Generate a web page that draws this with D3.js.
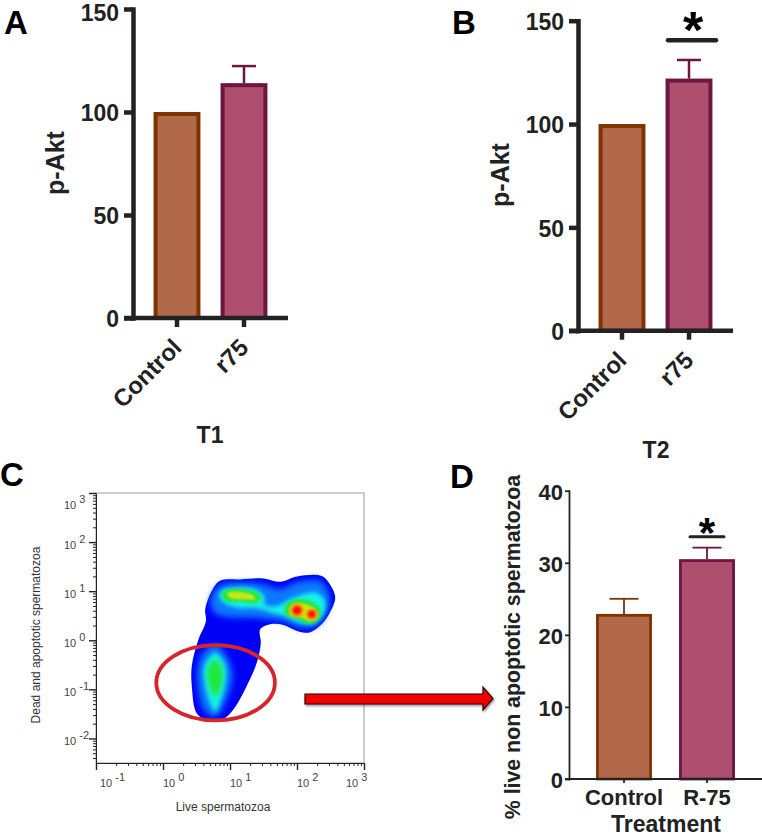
<!DOCTYPE html>
<html>
<head>
<meta charset="utf-8">
<script src="https://cdn.jsdelivr.net/npm/d3@7"></script>
<style>
    body { margin: 0; background: #fff; }
    svg { display: block; }
    text { font-family: "Liberation Sans", Arial, sans-serif; }
    .big { font-weight: bold; fill: #222; }
    .letter { font-weight: bold; font-size: 33px; fill: #000; }
    .flow { fill: #444; font-size: 11px; }
</style>
</head>
<body>
<div class="graphic"></div>
<script>
// bar panels
var catsAB = ["Control", "r75"];
var catsD = ["Control", "R-75"];
var valuesA = [100, 114];
var errorsA = [0, 8.3];
var valuesB = [100, 122];
var errorsB = [0, 9];
var valuesD = [22.9, 30.5];
var errorsD = [2.1, 1.6];
var ticksAB = [0, 50, 100, 150];
var ticksD = [0, 10, 20, 30, 40];
var fills = ["#b1694a", "#ae4f70"];
var strokes = ["#7f3300", "#6f1540"];

// panel C, density outlines as [log10 x, log10 y]
var decadesX = [0.1, 1, 10, 100, 1000];
var decadesY = [0.01, 0.1, 1, 10, 100, 1000];
var outline = [[.85,1.21],[1.15,1.24],[1.5,1.26],[1.75,1.19],[2,1.3],[2.37,1.31],[2.49,1.14],[2.57,.87],[2.49,.565],[2.37,.33],[2.19,.16],[2,.19],[1.8,.31],[1.62,.33],[1.45,.22],[1.46,-.05],[1.4,-.46],[1.25,-.93],[1.05,-1.41],[.9,-1.6],[.63,-1.61],[.5,-1.48],[.43,-.93],[.43,-.52],[.53,.02],[.64,.39],[.63,.63],[.73,1.01]];
var azureTop = [[.83,1.11],[1.1,1.18],[1.5,1.14],[1.74,1.04],[2,1.18],[2.34,1.21],[2.47,.97],[2.47,.63],[2.29,.29],[2.04,.26],[1.8,.39],[1.57,.43],[1.35,.46],[1.1,.46],[.8,.53],[.7,.77],[.75,.97]];
var azureLow = [[.78,-.08],[.98,-.39],[1.04,-.73],[.95,-1.2],[.78,-1.56],[.61,-1.41],[.52,-.93],[.53,-.46],[.65,-.18]];
var cyanTop = [[.88,1.01],[1.1,1.07],[1.37,1.04],[1.51,.9],[1.52,.73],[1.7,.7],[1.9,.84],[2.09,.94],[2.29,.97],[2.42,.8],[2.39,.53],[2.24,.35],[2.04,.36],[1.85,.48],[1.65,.55],[1.4,.65],[1.1,.67],[.9,.77],[.84,.9]];
var cyanLow = [[.78,-.26],[.93,-.52],[.93,-.86],[.85,-1.27],[.78,-1.45],[.69,-1.24],[.62,-.86],[.62,-.52]];
var greenUpper = [[.88,.98],[1.1,1.05],[1.37,.99],[1.47,.87],[1.37,.75],[1.15,.79],[.94,.79]];
var greenRight = [[1.83,.72],[2,.83],[2.2,.8],[2.35,.63],[2.31,.41],[2.17,.33],[2,.44],[1.83,.51]];
var greenLow = [[.78,-.38],[.89,-.63],[.85,-1],[.78,-1.15],[.7,-.96],[.66,-.63]];
var yellowUpper = [[.96,.96],[1.1,.99],[1.34,.92],[1.38,.84],[1.22,.83],[1.0,.86]];
var yellowRight = [[1.9,.69],[2.04,.76],[2.26,.65],[2.31,.48],[2.19,.39],[2.04,.48],[1.9,.51]];
var peaksX = [2, 2.22];
var peaksY = [.61, .53];
var gateX = [-.1, 1.67];
var gateY = [-.1, -1.63];

var svg = d3.select(".graphic").append("svg").attr("width", 762).attr("height", 837);

var defs = svg.append("defs");
[["b06", .6], ["b1", 1], ["b15", 1.5], ["b2", 2], ["b25", 2.5], ["b3", 3]].forEach(function (b) {
    defs.append("filter").attr("id", b[0])
        .attr("x", "-30%").attr("y", "-30%").attr("width", "160%").attr("height", "160%")
        .append("feGaussianBlur").attr("stdDeviation", b[1]);
});
var shadow = defs.append("filter").attr("id", "shadow");
shadow.append("feDropShadow").attr("dx", 1).attr("dy", 1.5).attr("stdDeviation", 1).attr("flood-opacity", .45);

function barPanel(o) {
    var g = svg.append("g");
    var y = d3.scaleLinear().domain(o.yDomain).range([o.y0, o.y1]);
    var x = d3.scaleBand().domain(o.cats).range(o.xRange).paddingInner(.36).paddingOuter(.18);
    var rows = o.cats.map(function (c, i) { return { cat: c, v: o.values[i], e: o.errors[i], i: i }; });

    // error bars go under the bars
    var errs = g.selectAll(".err").data(rows.filter(function (d) { return d.e > 0; })).join("g")
        .attr("stroke", function (d) { return strokes[d.i]; })
        .attr("stroke-width", o.errWidth).attr("fill", "none");
    errs.append("line")
        .attr("x1", function (d) { return x(d.cat) + x.bandwidth() / 2; })
        .attr("x2", function (d) { return x(d.cat) + x.bandwidth() / 2; })
        .attr("y1", function (d) { return y(d.v); })
        .attr("y2", function (d) { return y(d.v + d.e); });
    errs.append("line")
        .attr("x1", function (d) { return x(d.cat) + x.bandwidth() / 2 - o.capHalf; })
        .attr("x2", function (d) { return x(d.cat) + x.bandwidth() / 2 + o.capHalf; })
        .attr("y1", function (d) { return y(d.v + d.e); })
        .attr("y2", function (d) { return y(d.v + d.e); });

    // stroke sits inside the bar height, like the prism export
    g.selectAll(".bar").data(rows).join("rect")
        .attr("x", function (d) { return x(d.cat); })
        .attr("width", x.bandwidth())
        .attr("y", function (d) { return y(d.v) + o.barStroke / 2; })
        .attr("height", function (d) { return y(0) - y(d.v) - o.barStroke / 2; })
        .attr("fill", function (d) { return fills[d.i]; })
        .attr("stroke", function (d) { return strokes[d.i]; })
        .attr("stroke-width", o.barStroke);

    var yAxis = g.append("g").attr("transform", "translate(" + o.axisX + ",0)")
        .call(d3.axisLeft(y).tickValues(o.ticks).tickSize(o.tickLen).tickSizeOuter(0).tickPadding(o.tickPad));
    yAxis.selectAll("text").attr("class", "big").style("font-size", o.tickFont + "px")
        .attr("dy", function (d) { return o.topTickDrop && d == o.yDomain[1] ? "0.52em" : "0.38em"; });

    var xAxis = g.append("g").attr("transform", "translate(0," + o.y0 + ")")
        .call(d3.axisBottom(x).tickSize(o.tickLen).tickSizeOuter(0));
    xAxis.select(".domain").attr("d", "M" + (o.axisX - o.tickLen) + ",0H" + o.xEnd);
    g.selectAll(".tick line, .domain").attr("stroke", "#222").attr("stroke-width", o.axisWidth);
    yAxis.select(".domain").attr("stroke-linecap", "square");

    var labels = xAxis.selectAll("text").attr("class", "big").style("font-size", o.tickFont + "px");
    if (o.rotate) {
        labels.style("font-size", "24px").attr("text-anchor", "end").attr("y", 0).attr("dy", 0)
            .attr("transform", "translate(6,31) rotate(-45)");
    } else {
        labels.attr("y", 26).attr("dy", 0);
    }

    g.append("text").attr("class", "big")
        .attr("transform", "translate(" + o.labelX + "," + o.labelY + ") rotate(-90)")
        .attr("text-anchor", "middle").style("font-size", o.labelFont + "px").text(o.label);

    if (o.sig) {
        g.append("line").attr("x1", o.sig[0]).attr("x2", o.sig[1])
            .attr("y1", y(o.sig[2])).attr("y2", y(o.sig[2]))
            .attr("stroke", "#222").attr("stroke-width", o.sigWidth).attr("stroke-linecap", "round");
        g.append("text").attr("x", (o.sig[0] + o.sig[1]) / 2 + o.starShift).attr("y", y(o.sig[2]) + o.starDy)
            .attr("text-anchor", "middle").style("font-weight", "bold").style("font-size", o.starFont + "px")
            .attr("fill", "#000").text("*");
    }
    return g;
}

barPanel({
    cats: catsAB, values: valuesA, errors: errorsA, ticks: ticksAB, yDomain: [0, 150],
    y0: 318, y1: 9, xRange: [143.5, 277.5], axisX: 133, xEnd: 288, topTickDrop: true,
    tickLen: 9, tickPad: 5, tickFont: 23, axisWidth: 4.5, barStroke: 4, errWidth: 2.5, capHalf: 12,
    rotate: true, label: "p-Akt", labelX: 64, labelY: 163, labelFont: 25
});
barPanel({
    cats: catsAB, values: valuesB, errors: errorsB, ticks: ticksAB, yDomain: [0, 150],
    y0: 330.7, y1: 20.7, xRange: [588.5, 722.5], axisX: 578, xEnd: 733,
    tickLen: 9, tickPad: 5, tickFont: 23, axisWidth: 4.5, barStroke: 4, errWidth: 2.5, capHalf: 12,
    rotate: true, label: "p-Akt", labelX: 509, labelY: 175, labelFont: 25,
    sig: [668, 716, 140.6], sigWidth: 4.5, starDy: 8, starFont: 52, starShift: 1
});
barPanel({
    cats: catsD, values: valuesD, errors: errorsD, ticks: ticksD, yDomain: [0, 40],
    y0: 779, y1: 490.7, xRange: [582.5, 748.5], axisX: 569, xEnd: 762,
    tickLen: 4, tickPad: 2, tickFont: 22, axisWidth: 1.8, barStroke: 2.8, errWidth: 1.8, capHalf: 14.5,
    rotate: false, label: "% live non apoptotic spermatozoa", labelX: 520, labelY: 647, labelFont: 21.3,
    sig: [690, 724, 33.6], sigWidth: 3, starDy: 10, starFont: 42, starShift: 0
});

svg.append("text").attr("class", "big").attr("x", 210).attr("y", 443).attr("text-anchor", "middle").style("font-size", "23px").text("T1");
svg.append("text").attr("class", "big").attr("x", 656).attr("y", 458).attr("text-anchor", "middle").style("font-size", "23px").text("T2");
svg.append("text").attr("class", "big").attr("x", 666).attr("y", 832).attr("text-anchor", "middle").style("font-size", "23px").text("Treatment");

[["A", 4, 34], ["B", 452, 34], ["C", 0, 486], ["D", 450, 488]].forEach(function (l) {
    svg.append("text").attr("class", "letter").attr("x", l[1]).attr("y", l[2]).text(l[0]);
});

// panel C
var xLog = d3.scaleLog().domain([.1, 1000]).range([96, 364]);
var yLog = d3.scaleLog().domain([Math.pow(10, -2.5), 1000]).range([763, 493]);
var blob = d3.line()
    .x(function (d) { return xLog(Math.pow(10, d[0])); })
    .y(function (d) { return yLog(Math.pow(10, d[1])); })
    .curve(d3.curveCatmullRomClosed);

var flow = svg.append("g");
flow.append("rect").attr("x", 96).attr("y", 493).attr("width", 268).attr("height", 270)
    .attr("fill", "#fff").attr("stroke", "#999").attr("stroke-width", 1);

[
    [[outline], "#0000f5", "b06"],
    [[azureTop, azureLow], "#0a78ff", "b3"],
    [[cyanTop, cyanLow], "#14f2e6", "b2"],
    [[greenUpper, greenRight], "#22e63c", "b15"],
    [[greenLow], "#22e63c", "b25"],
    [[yellowUpper, yellowRight], "#c8e614", "b1"]
].forEach(function (layer) {
    flow.append("g").attr("filter", "url(#" + layer[2] + ")")
        .selectAll("path").data(layer[0]).join("path")
        .attr("d", blob).attr("fill", layer[1]);
});
var peaks = peaksX.map(function (v, i) { return [v, peaksY[i]]; });
[[7, "#ff9a00", "b1"], [4.2, "#f01400", "b1"]].forEach(function (p) {
    flow.append("g").attr("filter", "url(#" + p[2] + ")")
        .selectAll("circle").data(peaks).join("circle")
        .attr("cx", function (d) { return xLog(Math.pow(10, d[0])); })
        .attr("cy", function (d) { return yLog(Math.pow(10, d[1])); })
        .attr("r", function (d, i) { return i ? p[0] * .85 : p[0]; })
        .attr("fill", p[1]);
});

function logAxis(g, axis, scale, decades) {
    g.call(axis(scale).tickValues(scale.ticks()).tickSize(3).tickSizeOuter(0).tickFormat(""));
    g.selectAll(".tick line")
        .attr("stroke", "#222")
        .filter(function (d) { return decades.indexOf(d) >= 0; })
        .attr(axis === d3.axisLeft ? "x2" : "y2", axis === d3.axisLeft ? -7 : 7)
        .attr("stroke-width", 1.4);
    g.select(".domain").attr("stroke", "#222");
}
logAxis(flow.append("g").attr("transform", "translate(96,0)"), d3.axisLeft, yLog, decadesY);
logAxis(flow.append("g").attr("transform", "translate(0,763)"), d3.axisBottom, xLog, decadesX);

function powerLabel(t, v) {
    t.append("tspan").text("10");
    t.append("tspan").attr("dx", 3).attr("dy", -6).text(Math.round(Math.log10(v)));
}
flow.selectAll(".xp").data(decadesX).join("text").attr("class", "flow")
    .attr("x", function (d, i) { return xLog(d) + (i == 0 ? 4 : i == 4 ? -18 : 0); })
    .attr("y", 787)
    .each(function (d) { powerLabel(d3.select(this), d); });
flow.selectAll(".yp").data(decadesY).join("text").attr("class", "flow")
    .attr("x", 64)
    .attr("y", function (d) { return yLog(d) + (d == 1000 ? 16 : 7); })
    .each(function (d) { powerLabel(d3.select(this), d); });

flow.append("text").attr("x", 223).attr("y", 811).attr("text-anchor", "middle")
    .attr("fill", "#333").style("font-size", "12px").text("Live spermatozoa");
flow.append("text").attr("transform", "translate(40,635) rotate(-90)").attr("text-anchor", "middle")
    .attr("fill", "#333").style("font-size", "12px").text("Dead and apoptotic spermatozoa");

// gate ellipse
var gx = gateX.map(function (v) { return xLog(Math.pow(10, v)); });
var gy = gateY.map(function (v) { return yLog(Math.pow(10, v)); });
flow.append("ellipse")
    .attr("cx", (gx[0] + gx[1]) / 2).attr("cy", (gy[0] + gy[1]) / 2)
    .attr("rx", (gx[1] - gx[0]) / 2).attr("ry", (gy[1] - gy[0]) / 2)
    .attr("fill", "none").attr("stroke", "#d7252a").attr("stroke-width", 3.8);

// arrow to panel D
svg.append("path")
    .attr("d", "M305,694H483V687L493,698.5L483,710V704H305Z")
    .attr("fill", "#f50000").attr("stroke", "#300").attr("stroke-width", 1.2)
    .attr("filter", "url(#shadow)");
</script>
</body>
</html>
